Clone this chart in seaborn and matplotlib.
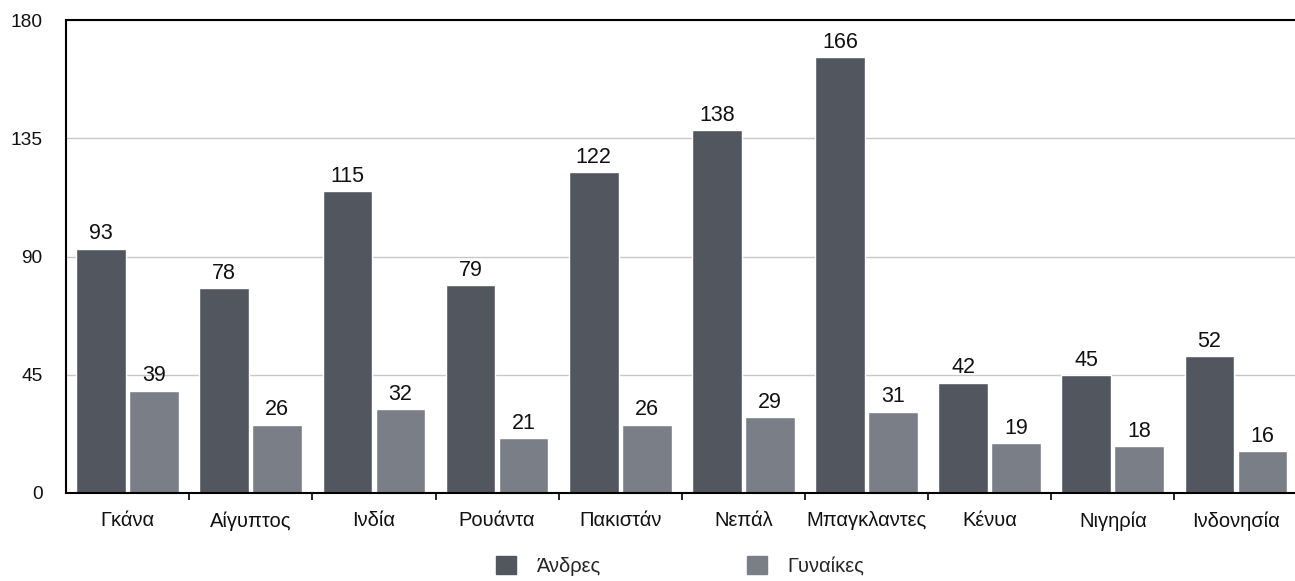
import pandas as pd
import numpy as np
import matplotlib.pyplot as plt
import seaborn as sns

# Δεδομένα
countries = ["Γκάνα", "Αίγυπτος", "Ινδία", "Ρουάντα", "Πακιστάν",
             "Νεπάλ", "Μπαγκλαντες", "Κένυα", "Νιγηρία", "Ινδονησία"]
men = [93, 78, 115, 79, 122, 138, 166, 42, 45, 52]
women = [39, 26, 32, 21, 26, 29, 31, 19, 18, 16]
series = ["Άνδρες", "Γυναίκες"]
colors = ["#52575f", "#7a7f87"]
yticks = [0, 45, 90, 135, 180]

df = pd.DataFrame({
    "country": countries * 2,
    "value": men + women,
    "group": [series[0]] * len(countries) + [series[1]] * len(countries),
})

sns.set_theme(style="white")
plt.rcParams['font.family'] = ['Liberation Sans', 'DejaVu Sans']

fig = plt.figure(figsize=(12.95, 5.81), dpi=100)
ax = fig.add_axes([0.051, 0.1515, 0.951, 0.814])

sns.barplot(data=df, x="country", y="value", hue="group", order=countries,
            hue_order=series, palette=colors, width=0.86, gap=0.06,
            saturation=1, ax=ax, legend=False)

for cont in ax.containers:
    ax.bar_label(cont, fmt="%d", padding=3, fontsize=15.5, color="#111111")

ax.set_ylim(0, 180)
ax.set_xlim(-0.5, len(countries) - 0.5)
ax.set_yticks(yticks)
ax.yaxis.grid(True, color="#c8c8c8", linewidth=1)
ax.set_axisbelow(True)
ax.set_xlabel("")
ax.set_ylabel("")

for side in ["left", "bottom", "top"]:
    ax.spines[side].set_visible(True)
    ax.spines[side].set_color("black")
    ax.spines[side].set_linewidth(1.5)
ax.spines["right"].set_visible(False)

ax.tick_params(axis="y", length=0, pad=17, labelsize=13.8, labelcolor="#111111")
ax.tick_params(axis="x", which="major", length=0, pad=13, labelsize=14.5, labelcolor="#111111")
ax.set_xticks(np.arange(0.5, len(countries) - 0.5, 1), minor=True)
ax.tick_params(axis="x", which="minor", bottom=True, length=5, width=1.2, color="black", direction="out")

# Υπόμνημα
handles = [plt.Rectangle((0, 0), 1, 1, color=c) for c in colors]
fig.legend(handles, series, loc="lower center", bbox_to_anchor=(0.525, -0.022), ncol=2,
           frameon=False, fontsize=14.5, handlelength=1.0, handleheight=1.0,
           columnspacing=7.3, handletextpad=1.0)

fig.savefig("out.png", dpi=100)
